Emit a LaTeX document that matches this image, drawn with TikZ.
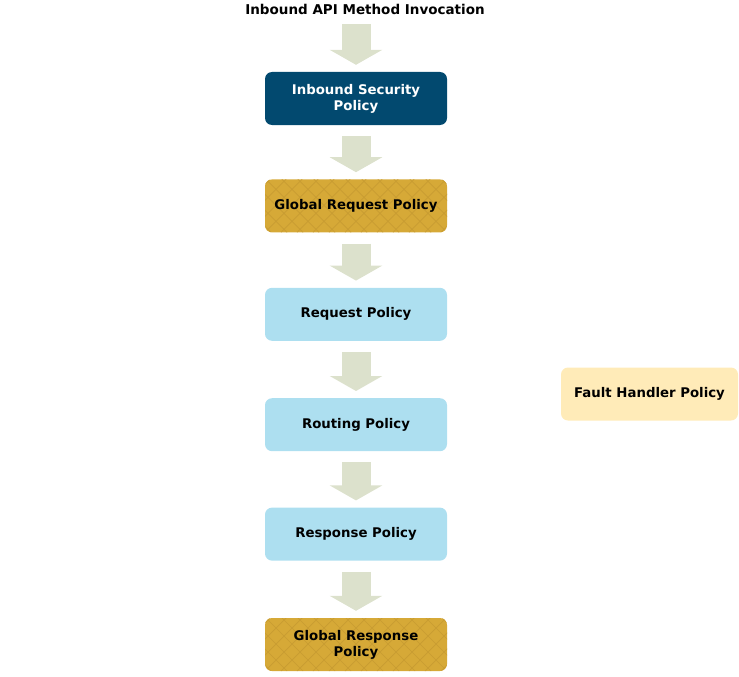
\documentclass[tikz,border=0pt]{standalone}
\usepackage{fontspec}
\setmainfont{DejaVu Sans}
\usepackage{xcolor}
\usepackage{tikz}
\usetikzlibrary{arrows.meta,positioning}
\definecolor{pmnavy}{HTML}{02496F}
\definecolor{pmgold}{HTML}{D6A937}
\definecolor{pmweave}{HTML}{C89C32}
\definecolor{pmsky}{HTML}{ADDFF0}
\definecolor{pmcream}{HTML}{FFEBB8}
\definecolor{pmsage}{HTML}{DCE1CC}

\begin{document}
\begin{tikzpicture}[
  x=1pt,y=-1pt,
  node distance=56pt,
  box/.style={rounded corners=7pt,minimum width=182pt,minimum height=53pt,align=center,
    font=\fontsize{13.3}{16}\selectfont\bfseries},
  secbox/.style={box,fill=pmnavy,text=white},
  reqbox/.style={box,fill=pmsky},
  globalbox/.style={box,fill=pmgold,path picture={
      \foreach \i in {-12,...,12}{
        \draw[pmweave,line width=0.7pt] ([xshift=\i*16pt]path picture bounding box.south west) -- ++(70pt,70pt);
        \draw[pmweave,line width=0.7pt] ([xshift=\i*16pt]path picture bounding box.south east) -- ++(-70pt,70pt);
      }}},
  faultbox/.style={box,fill=pmcream,minimum width=177pt},
  flow/.style={-{Triangle[length=15pt,width=52pt]},line width=29pt,color=pmsage,
    shorten <=11pt,shorten >=7pt}
]
  \useasboundingbox (0,0) rectangle (739,677);
  \node[font=\fontsize{13.5}{16}\selectfont\bfseries] (title) at (365,9) {Inbound API Method Invocation};
  \node[secbox] (security) at (356,98.5) {Inbound Security\\Policy};
  \node[globalbox,below=54pt of security] (globalreq) {Global Request Policy};
  \node[reqbox,below=55pt of globalreq] (request) {Request Policy};
  \node[reqbox,below=57pt of request] (routing) {Routing Policy};
  \node[reqbox,below=56pt of routing] (response) {Response Policy};
  \node[globalbox,below=57pt of response] (globalresp) {Global Response\\Policy};
  \node[faultbox] (fault) at (649.5,394) {Fault Handler Policy};
  \draw[flow,shorten <=6pt] (title.south -| security.north) -- (security.north);
  \draw[flow] (security) -- (globalreq);
  \draw[flow] (globalreq) -- (request);
  \draw[flow] (request) -- (routing);
  \draw[flow] (routing) -- (response);
  \draw[flow] (response) -- (globalresp);
\end{tikzpicture}
\end{document}
